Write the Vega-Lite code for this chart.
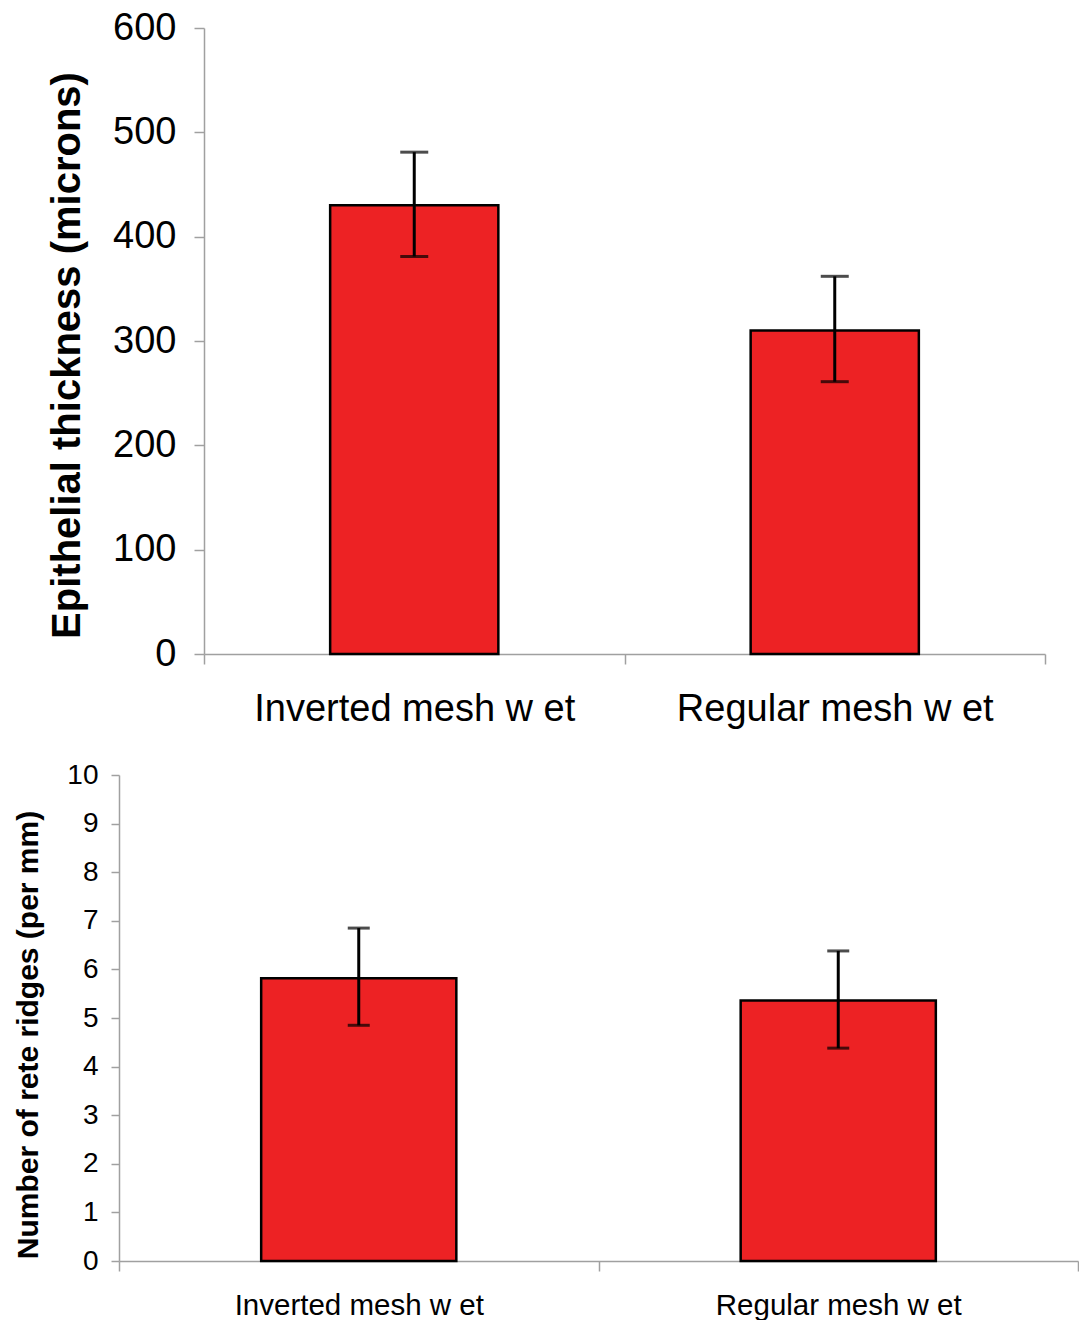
{
  "$schema": "https://vega.github.io/schema/vega-lite/v6.json",
  "padding": {"left": 13, "top": 9, "right": 0, "bottom": 0},
  "background": "white",
  "center": false,
  "spacing": 33,
  "config": {
    "view": {"stroke": null},
    "font": "Liberation Sans",
    "axis": {
      "domainColor": "#a0a0a0",
      "tickColor": "#a0a0a0",
      "domainWidth": 1.5,
      "tickWidth": 1.5,
      "labelColor": "black",
      "titleColor": "black",
      "grid": false,
      "labelLimit": 0,
      "titleLimit": 0,
      "labelFont": "Liberation Sans",
      "titleFont": "Liberation Sans"
    }
  },
  "vconcat": [
    {
      "spacing": 0,
      "bounds": "flush",
      "hconcat": [
        {
          "width": 85,
          "height": 626,
          "data": {"values": []},
          "mark": "point"
        },
        {
          "width": 841,
          "height": 626,
          "data": {"values": [
            {"group": "Inverted mesh w et", "mean": 430, "lo": 381, "hi": 481},
            {"group": "Regular mesh w et", "mean": 310, "lo": 261, "hi": 362}
          ]},
          "encoding": {
            "x": {
              "field": "group", "type": "nominal", "sort": null,
              "scale": {"paddingInner": 0, "paddingOuter": 0},
              "axis": {"title": null, "labelAngle": 0, "labelFontSize": 38, "tickBand": "extent", "tickSize": 10, "labelPadding": 26}
            }
          },
          "layer": [
            {
              "mark": {"type": "bar", "width": {"band": 0.4}, "color": "#ed2224", "stroke": "black", "strokeWidth": 2.5},
              "encoding": {
                "y": {
                  "field": "mean", "type": "quantitative",
                  "scale": {"domain": [0, 600], "nice": false},
                  "axis": {"title": "Epithelial thickness (microns)", "titleFontSize": 40, "titleFontWeight": "bold", "titleY": 327, "labelFontSize": 38, "values": [0, 100, 200, 300, 400, 500, 600], "tickSize": 10, "labelPadding": 18, "titlePadding": 25}
                }
              }
            },
            {
              "mark": {"type": "rule", "strokeWidth": 3, "color": "black"},
              "encoding": {"y": {"field": "lo", "type": "quantitative"}, "y2": {"field": "hi"}}
            },
            {
              "mark": {"type": "tick", "size": 28, "thickness": 3, "color": "black"},
              "encoding": {"y": {"field": "lo", "type": "quantitative"}}
            },
            {
              "mark": {"type": "tick", "size": 28, "thickness": 3, "color": "black"},
              "encoding": {"y": {"field": "hi", "type": "quantitative"}}
            }
          ]
        }
      ]
    },
    {
      "width": 959,
      "height": 486,
      "data": {"values": [
        {"group": "Inverted mesh w et", "mean": 5.82, "lo": 4.85, "hi": 6.85},
        {"group": "Regular mesh w et", "mean": 5.36, "lo": 4.38, "hi": 6.38}
      ]},
      "encoding": {
        "x": {
          "field": "group", "type": "nominal", "sort": null,
          "scale": {"paddingInner": 0, "paddingOuter": 0},
          "axis": {"title": null, "labelAngle": 0, "labelFontSize": 29.5, "tickBand": "extent", "tickSize": 10, "labelPadding": 20}
        }
      },
      "layer": [
        {
          "mark": {"type": "bar", "width": {"band": 0.407}, "color": "#ed2224", "stroke": "black", "strokeWidth": 2.5},
          "encoding": {
            "y": {
              "field": "mean", "type": "quantitative",
              "scale": {"domain": [0, 10], "nice": false},
              "axis": {"title": "Number of rete ridges (per mm)", "titleFontSize": 30, "titleFontWeight": "bold", "titleY": 259.5, "labelFontSize": 28, "values": [0, 1, 2, 3, 4, 5, 6, 7, 8, 9, 10], "tickSize": 8, "labelPadding": 13, "titlePadding": 23}
            }
          }
        },
        {
          "mark": {"type": "rule", "strokeWidth": 3, "color": "black"},
          "encoding": {"y": {"field": "lo", "type": "quantitative"}, "y2": {"field": "hi"}}
        },
        {
          "mark": {"type": "tick", "size": 22, "thickness": 3, "color": "black"},
          "encoding": {"y": {"field": "lo", "type": "quantitative"}}
        },
        {
          "mark": {"type": "tick", "size": 22, "thickness": 3, "color": "black"},
          "encoding": {"y": {"field": "hi", "type": "quantitative"}}
        }
      ]
    }
  ]
}
